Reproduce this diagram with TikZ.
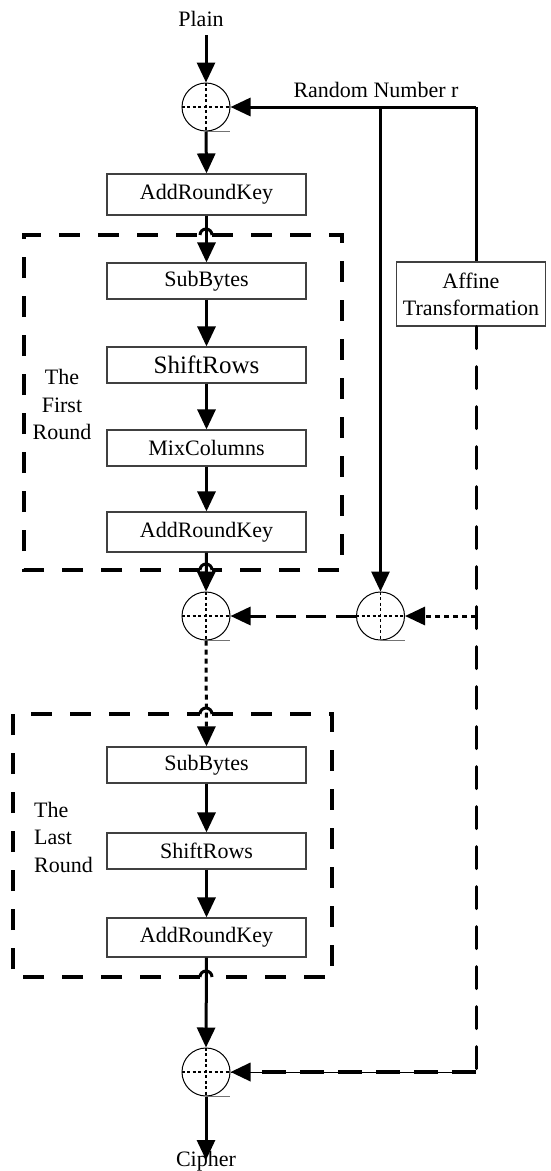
\documentclass[tikz,border=0pt]{standalone}
\usepackage{fontspec}
\setmainfont{Liberation Serif}
\usetikzlibrary{arrows.meta,calc}
\begin{document}
\begin{tikzpicture}[x=1pt,y=-1pt,
  txt/.style={font=\fontsize{22}{27.5}\selectfont, inner sep=0pt},
  opbox/.style={draw=black!75, line width=1.2pt, minimum width=199pt, inner sep=0pt, font=\fontsize{22}{26}\selectfont},
  xorc/.style={circle, draw, line width=1pt, minimum size=48pt, inner sep=0pt},
  crossline/.style={line width=1.4pt, dash pattern=on 3pt off 2.5pt},
  uline/.style={line width=1pt, draw=black!55},
  tip/.style={-{Triangle[length=20pt,width=18pt]}},
  mainline/.style={line width=3pt},
  mainarrow/.style={mainline, tip},
  roundbox/.style={line width=3.5pt, dash pattern=on 21pt off 18pt},
  hop/.style={line width=3pt},
  affdash/.style={line width=3pt, line cap=round, dash pattern=on 22pt off 18pt},
  dotline/.style={line width=3pt, dash pattern=on 5pt off 4pt},
  midash/.style={line width=3pt, dash pattern=on 20pt off 10pt},
  botdash/.style={line width=3.5pt, dash pattern=on 24pt off 14pt}
]
\useasboundingbox (0,0) rectangle (550,1171);

% text labels
\node[txt] (plain) at (201,19) {Plain};
\node[txt] (rnd) at (376,90) {Random Number r};
\node[txt, align=center] (first) at (62,404.5) {The\\First\\Round};
\node[txt, align=left, anchor=west] (last) at (34,837) {The\\Last\\Round};
\node[txt] (cipher) at (206,1161) {Cipher};

% xor circles
\node[xorc] (c1) at (206,107) {};
\node[xorc] (c2) at (206,616) {};
\node[xorc] (c3) at (380.5,616) {};
\node[xorc] (c4) at (206,1072) {};
\foreach \c in {c1,c2,c3,c4}{
  \draw[crossline] (\c.north) -- (\c.south) (\c.west) -- (\c.east);
  \draw[uline] (\c.south) -- ++(24,0);
}

% boxes
\node[opbox, minimum height=41pt] (ark0) at (206.5,194.5) {AddRoundKey};
\node[opbox, minimum height=36pt] (sb1) at (206.5,281) {SubBytes};
\node[opbox, minimum height=36pt, font=\fontsize{25}{28}\selectfont] (sr1) at (206.5,365) {ShiftRows};
\node[opbox, minimum height=36pt] (mc1) at (206.5,448) {MixColumns};
\node[opbox, minimum height=40pt] (ark1) at (206.5,532) {AddRoundKey};
\node[opbox, minimum height=36pt] (sb2) at (206.5,765) {SubBytes};
\node[opbox, minimum height=36pt] (sr2) at (206.5,851) {ShiftRows};
\node[opbox, minimum height=39pt] (ark2) at (206.5,937.5) {AddRoundKey};
\node[draw=black!75, line width=1.2pt, minimum width=149pt, minimum height=64pt, inner sep=0pt, align=center, font=\fontsize{22}{27}\selectfont] (affine) at (471,294) {Affine\\Transformation};

% dashed round boxes with hops
\draw[roundbox] (212,235) -- (342,235) -- (342,570) -- (212,570);
\draw[roundbox] (200,570) -- (24,570) -- (24,235) -- (200,235);
\draw[hop] (200,235) arc[start angle=180,end angle=0,radius=6pt];
\draw[hop] (200,570) arc[start angle=180,end angle=0,radius=6pt];
\draw[roundbox] (212,714) -- (332,714) -- (332,977) -- (212,977);
\draw[roundbox] (200,977) -- (13,977) -- (13,714) -- (200,714);
\draw[hop] (200,714) arc[start angle=180,end angle=0,radius=6pt];
\draw[hop] (200,977) arc[start angle=180,end angle=0,radius=6pt];

% coordinates
\coordinate (pin) at (206,35);
\coordinate (rtop) at (476,107);
\coordinate (rbr) at (380.5,107);
\coordinate (rcorner) at (476,1072);
\coordinate (cend) at (206,1160);

% main flow
\draw[mainarrow] (pin) -- (c1.north);
\draw[mainarrow] (c1.south) -- (ark0.north);
\draw[mainarrow] (ark0.south) -- (sb1.north);
\draw[mainarrow] (sb1.south) -- (sr1.north);
\draw[mainarrow] (sr1.south) -- (mc1.north);
\draw[mainarrow] (mc1.south) -- (ark1.north);
\draw[mainarrow] (ark1.south) -- (c2.north);
\draw[dotline, tip] (c2.south) -- (sb2.north);
\draw[mainarrow] (sb2.south) -- (sr2.north);
\draw[mainarrow] (sr2.south) -- (ark2.north);
\draw[mainarrow] (ark2.south) -- (c4.north);
\draw[mainarrow] (c4.south) -- (cend);

% random number path
\draw[mainarrow] (rtop) -- (c1.east);
\draw[mainline] (rtop) -- (affine.north -| rtop);
\draw[mainarrow] (rbr) -- (c3.north);
\draw[affdash] (affine.south -| rtop) -- (rcorner);
\draw[dotline, tip] (c3.east -| rtop) -- (c3.east);
\draw[midash, tip] (c3.west) -- (c2.east);
\draw[line width=0.8pt] (rcorner) -- (c4.east);
\draw[botdash, tip] (rcorner) -- (c4.east);
\end{tikzpicture}
\end{document}
